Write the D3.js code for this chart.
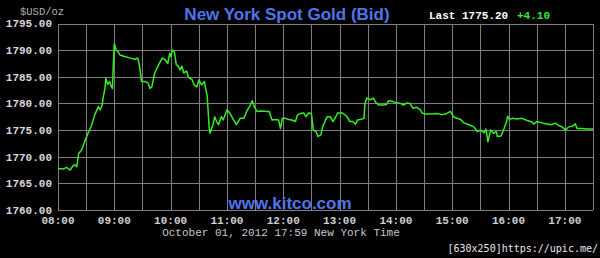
<!DOCTYPE html>
<html><head><meta charset="utf-8">
<script src="https://cdn.jsdelivr.net/npm/d3@7"></script>
<style>html,body{margin:0;padding:0;background:#000;}svg{display:block;}</style>
</head><body>
<script>
const times = ["08:00","08:06","08:09","08:13","08:16","08:18","08:20","08:22","08:25","08:29","08:32","08:36","08:39","08:43","08:45","08:47","08:48","08:50","08:51","08:53","08:55","08:57","08:58","08:59","09:00","09:02","09:04","09:06","09:11","09:17","09:22","09:25","09:27","09:29","09:33","09:36","09:38","09:40","09:43","09:47","09:51","09:54","09:57","09:59","10:00","10:02","10:04","10:06","10:08","10:10","10:12","10:14","10:17","10:19","10:23","10:25","10:28","10:30","10:33","10:36","10:37","10:39","10:41","10:42","10:45","10:47","10:49","10:51","10:54","10:56","11:00","11:03","11:07","11:10","11:14","11:18","11:21","11:24","11:27","11:29","11:32","11:37","11:43","11:45","11:48","11:51","11:55","11:57","11:59","12:02","12:06","12:09","12:13","12:15","12:18","12:22","12:24","12:27","12:30","12:32","12:35","12:37","12:40","12:42","12:45","12:47","12:50","12:53","12:56","12:58","13:03","13:04","13:08","13:11","13:14","13:17","13:19","13:22","13:26","13:27","13:29","13:33","13:36","13:39","13:42","13:47","13:50","13:52","13:56","13:59","14:05","14:08","14:12","14:15","14:18","14:22","14:26","14:28","14:31","14:37","14:44","14:49","14:53","14:58","15:02","15:09","15:12","15:18","15:23","15:27","15:30","15:34","15:36","15:38","15:41","15:44","15:47","15:48","15:52","15:55","15:58","15:59","16:01","16:04","16:09","16:14","16:20","16:25","16:27","16:30","16:37","16:45","16:50","16:54","16:57","17:01","17:04","17:08","17:11","17:13","17:18","17:24","17:30"];
const prices = [1767.8,1767.7,1768.0,1767.5,1768.3,1768.5,1768.1,1770.6,1771.2,1773.1,1774.4,1776.0,1777.8,1779.4,1778.8,1779.7,1781.0,1782.8,1784.7,1783.6,1784.1,1783.1,1782.8,1787.5,1791.2,1790.0,1789.7,1789.1,1788.8,1788.5,1788.3,1788.5,1786.9,1784.1,1784.1,1783.8,1782.8,1783.1,1785.7,1787.2,1788.5,1788.2,1787.5,1789.4,1788.8,1790.0,1789.7,1787.3,1787.0,1786.3,1787.0,1785.7,1786.1,1784.9,1784.4,1783.5,1783.1,1784.4,1783.5,1784.1,1783.1,1781.3,1775.6,1774.4,1776.0,1777.5,1776.6,1776.0,1777.5,1776.9,1778.8,1778.2,1776.9,1776.0,1777.2,1777.2,1778.5,1779.4,1780.5,1779.4,1778.5,1778.6,1778.5,1778.5,1776.9,1777.0,1776.9,1775.3,1777.2,1777.2,1777.0,1776.9,1776.6,1777.8,1778.1,1778.2,1777.5,1778.2,1778.1,1775.0,1774.7,1773.8,1774.1,1775.6,1776.9,1777.5,1777.5,1776.6,1777.5,1778.2,1778.2,1778.1,1777.5,1776.6,1776.6,1776.1,1776.9,1777.0,1777.2,1780.0,1781.0,1780.7,1781.0,1780.1,1779.7,1779.7,1779.8,1780.5,1780.4,1780.2,1780.0,1779.7,1780.1,1780.0,1779.1,1779.3,1778.8,1778.2,1778.0,1778.0,1778.1,1777.9,1778.0,1778.5,1777.4,1777.0,1776.4,1776.0,1775.6,1774.7,1775.0,1774.5,1775.2,1772.8,1775.0,1774.4,1774.7,1773.8,1773.9,1775.2,1776.6,1777.6,1777.0,1777.2,1777.1,1777.2,1776.8,1776.5,1776.1,1776.6,1776.3,1776.0,1776.3,1775.8,1775.6,1775.0,1775.6,1775.7,1776.2,1775.3,1775.3,1775.2,1775.2];
const yTicks = [1760,1765,1770,1775,1780,1785,1790,1795];
const xTickLabels = ["08:00","09:00","10:00","11:00","12:00","13:00","14:00","15:00","16:00","17:00"];
const xGrid = ["08:00","08:30","09:00","09:30","10:00","10:30","11:00","11:30","12:00","12:30","13:00","13:30","14:00","14:30","15:00","15:30","16:00","16:30","17:00","17:30"];
const titleText = "New York Spot Gold (Bid)";
const lastLabel = "Last 1775.20";
const changeLabel = "+4.10";
const unitLabel = "$USD/oz";
const siteLabel = "www.kitco.com";
const dateLabel = "October 01, 2012 17:59 New York Time";
const watermark = "[630x250]https://upic.me/";

const toMin = s => { const [h,m] = s.split(":").map(Number); return h*60+m; };
const W = 600, H = 258;
const svg = d3.select("body").append("svg").attr("width", W).attr("height", H);
svg.append("rect").attr("width", W).attr("height", H).attr("fill", "#000");

const x = d3.scaleLinear().domain([toMin("08:00"), toMin("17:30")]).range([58, 593]);
const y = d3.scaleLinear().domain([1760, 1795]).range([210, 23.5]);

const grid = svg.append("g").attr("stroke", "#808080").attr("stroke-width", 1).attr("shape-rendering", "crispEdges");
grid.selectAll("line.h").data(yTicks).join("line")
  .attr("x1", 58).attr("x2", 593).attr("y1", d => Math.round(y(d))+0.5).attr("y2", d => Math.round(y(d))+0.5);
grid.selectAll("line.v").data(xGrid).join("line")
  .attr("x1", d => Math.round(x(toMin(d)))+0.5).attr("x2", d => Math.round(x(toMin(d)))+0.5).attr("y1", y(1795)).attr("y2", y(1760));

const mono = "'Liberation Mono','DejaVu Sans Mono',monospace";
svg.append("g").selectAll("text").data(yTicks).join("text")
  .attr("x", 52).attr("y", d => y(d)).attr("dy", "0.36em").attr("text-anchor", "end")
  .attr("font-family", mono).attr("font-weight", "bold").attr("font-size", 11).attr("fill", "#d8d8d8")
  .text(d => d3.format(".2f")(d));

svg.append("g").selectAll("text").data(xTickLabels).join("text")
  .attr("x", d => x(toMin(d))).attr("y", 224).attr("text-anchor", "middle")
  .attr("font-family", mono).attr("font-weight", "bold").attr("font-size", 11).attr("fill", "#cfcfcf")
  .text(d => d);

const line = d3.line().x((d,i) => x(toMin(times[i]))).y(d => y(d));
svg.append("path").datum(prices).attr("d", line).attr("fill", "none")
  .attr("stroke", "#33ee22").attr("stroke-width", 1.5).attr("stroke-linejoin", "round");

svg.append("text").attr("x", 20).attr("y", 15).attr("font-family", mono).attr("font-size", 10.5).attr("fill", "#b0b0b0").text(unitLabel);

svg.append("text").attr("x", 287).attr("y", 20).attr("text-anchor", "middle")
  .attr("font-family", "'Liberation Sans',Arial,sans-serif").attr("font-weight", "bold").attr("font-size", 17).attr("fill", "#4f74ea").text(titleText);

svg.append("text").attr("x", 429).attr("y", 19).attr("font-family", mono).attr("font-weight", "bold").attr("font-size", 11).attr("fill", "#ffffff").text(lastLabel);
svg.append("text").attr("x", 517).attr("y", 19).attr("font-family", mono).attr("font-weight", "bold").attr("font-size", 11).attr("fill", "#33ee33").text(changeLabel);

svg.append("text").attr("x", 290).attr("y", 209).attr("text-anchor", "middle")
  .attr("font-family", "'Liberation Sans',Arial,sans-serif").attr("font-weight", "bold").attr("font-size", 17).attr("fill", "#4f74ea").text(siteLabel);

svg.append("text").attr("x", 281).attr("y", 236).attr("text-anchor", "middle")
  .attr("font-family", mono).attr("font-size", 11).attr("fill", "#c8c8c8").text(dateLabel);

svg.append("text").attr("x", 598).attr("y", 252).attr("text-anchor", "end")
  .attr("font-family", "'DejaVu Sans Mono',monospace").attr("font-size", 10).attr("fill", "#e8e8e8").text(watermark);
</script>
</body></html>
